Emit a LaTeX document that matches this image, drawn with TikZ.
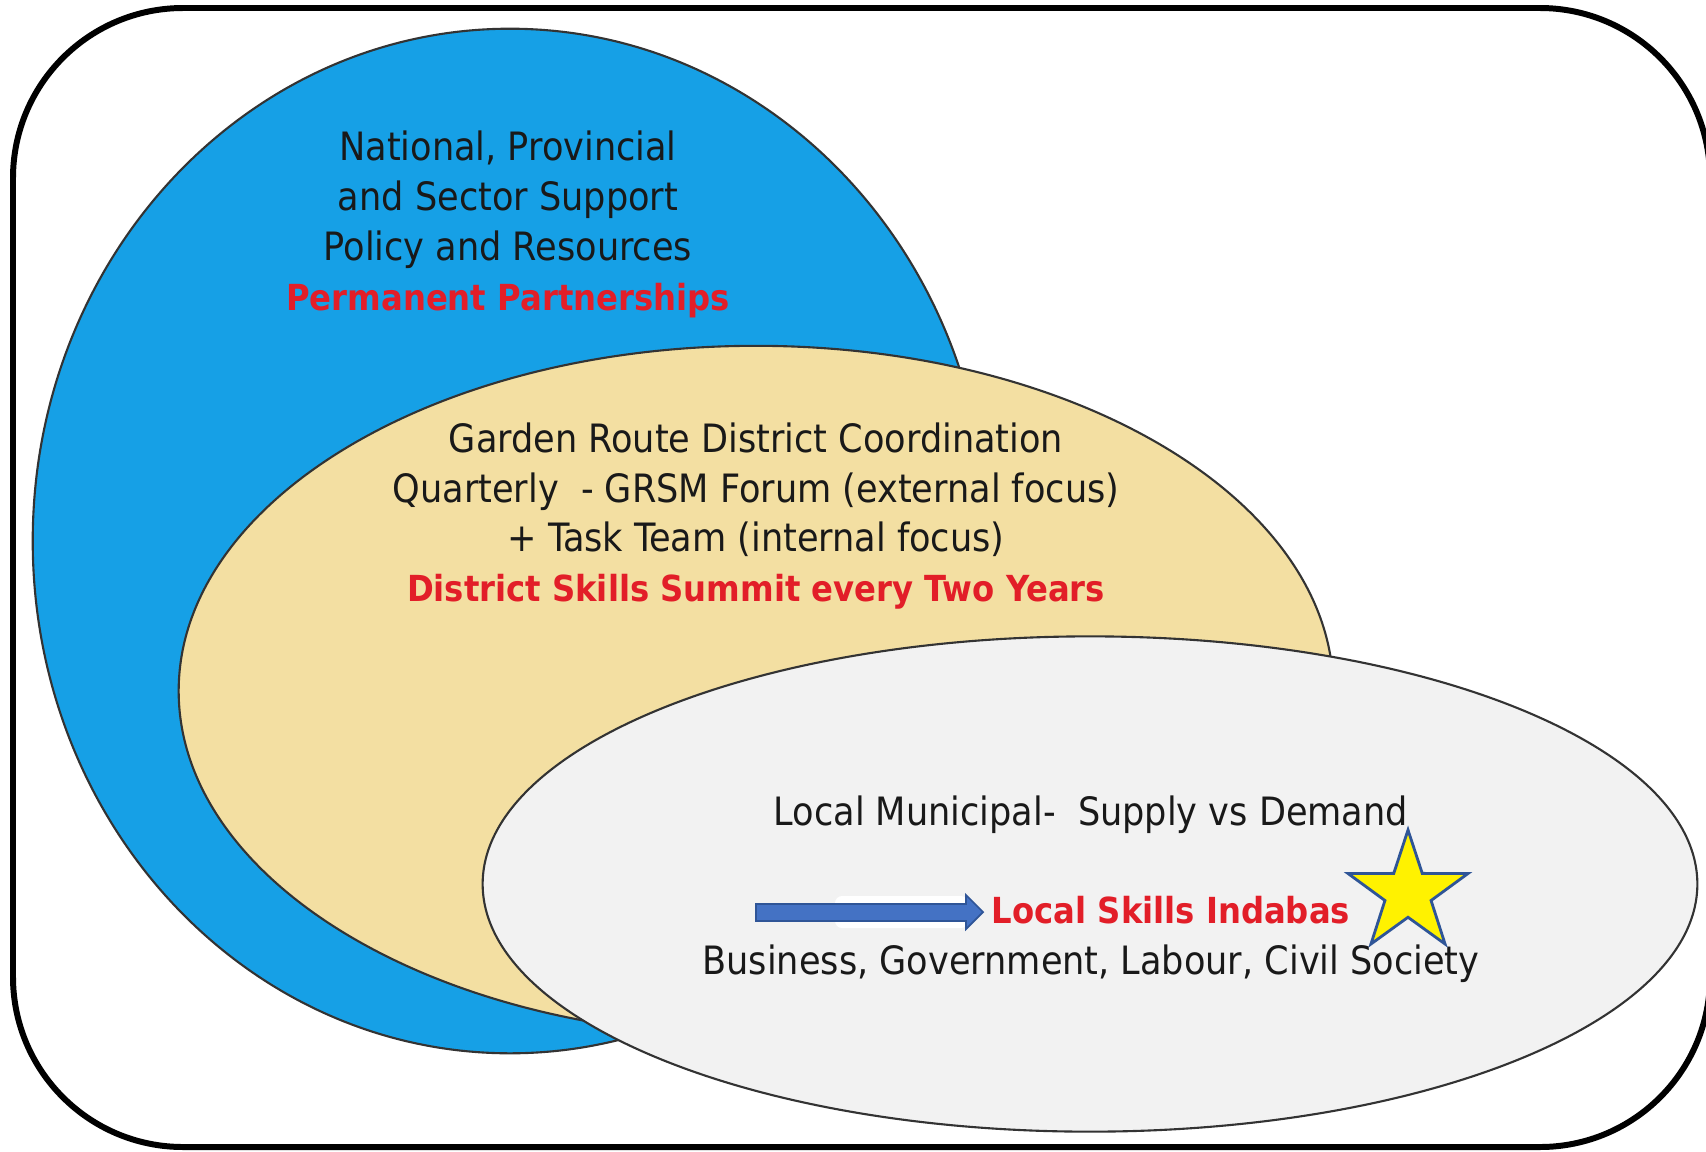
\documentclass[tikz,border=0pt]{standalone}
\usepackage{fontspec}
\setmainfont{DejaVu Sans Condensed}
\usepackage{tikz}
\usetikzlibrary{shapes.geometric}
\definecolor{natblue}{RGB}{22,160,230}
\definecolor{disttan}{RGB}{243,223,162}
\definecolor{locgray}{RGB}{242,242,242}
\definecolor{hotred}{RGB}{226,30,40}
\definecolor{arrowblue}{RGB}{68,114,196}
\definecolor{arrowedge}{RGB}{47,85,151}
\tikzstyle{zone}     = [ellipse,draw=black!80,line width=0.6pt,inner sep=0pt]
\tikzstyle{zonetext} = [align=center,inner sep=0pt,text=black!90,font=\fontsize{11.1}{14.2}\selectfont]
\tikzstyle{hot}      = [text=hotred,font=\fontsize{10.2}{14.2}\selectfont\bfseries]
\newcommand{\hotline}[1]{{\color{hotred}\fontsize{10.2}{14.2}\selectfont\bfseries #1}}

\begin{document}
\begin{tikzpicture}[x=0.01cm,y=-0.01cm]
  \useasboundingbox (0,0) rectangle (1706,1151);
  %outer frame
  \draw[line width=1.7pt,rounded corners=1.7cm] (13,8) rectangle (1710,1147);

  %the three nested zones
  \node[zone,fill=natblue,minimum width=9.54cm,minimum height=10.24cm] (national) at (510,541) {};
  \node[zone,fill=disttan,minimum width=11.54cm,minimum height=6.9cm] (district) at (756,691) {};
  \node[zone,fill=locgray,minimum width=12.14cm,minimum height=4.95cm] (local) at (1090,884) {};

  %texts of the zones
  \node[zonetext] (nattext) at (508,224) {National, Provincial\\and Sector Support\\Policy and Resources\\\hotline{Permanent Partnerships}};
  \node[zonetext] (disttext) at (756,516) {Garden Route District Coordination\\Quarterly\ \ - GRSM Forum (external focus)\\+ Task Team (internal focus)\\\hotline{District Skills Summit every Two Years}};
  \node[zonetext] (loctext) at (1091,815) {Local Municipal-\ \ Supply vs Demand};
  \node[zonetext,hot] (indabas) at (1171,910) {Local Skills Indabas};
  \node[zonetext] (partners) at (1091,964) {Business, Government, Labour, Civil Society};

  %arrow and star at the indabas
  \fill[white,rounded corners=2pt] (835,896) rectangle (968,928);
  \draw[fill=arrowblue,draw=arrowedge,line width=0.5pt] (756,904) -- (966,904) -- (966,895) -- (983,912) -- (966,929) -- (966,921) -- (756,921) -- cycle;
  \node[star,star points=5,star point ratio=2.6,minimum size=1.26cm,inner sep=0pt,fill=yellow,draw=arrowedge,line width=0.8pt] (indabastar) at (1408,893) {};
\end{tikzpicture}
\end{document}
